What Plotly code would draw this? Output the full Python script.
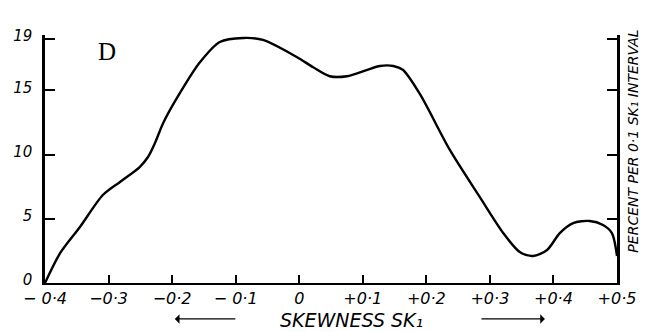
import plotly.graph_objects as go

# Data (skewness SK1 vs percent per 0.1 interval)
skewness = [-0.4, -0.376, -0.345, -0.309, -0.282, -0.251, -0.238, -0.227, -0.214,
            -0.19, -0.156, -0.125, -0.088, -0.057, -0.004, 0.022, 0.048, 0.075,
            0.107, 0.127, 0.148, 0.163, 0.19, 0.237, 0.284, 0.321, 0.347, 0.368,
            0.39, 0.41, 0.431, 0.457, 0.478, 0.492, 0.5]
percent = [0.0, 2.34, 4.36, 6.85, 7.87, 9.03, 9.81, 10.9, 12.46,
           14.6, 17.2, 18.77, 19.08, 18.93, 17.6, 16.8, 16.1, 16.1,
           16.6, 16.9, 16.9, 16.6, 14.7, 10.36, 6.7, 3.89, 2.41, 2.1,
           2.57, 3.89, 4.67, 4.83, 4.52, 3.89, 2.1]

x_tickvals = [-0.4, -0.3, -0.2, -0.1, 0.0, 0.1, 0.2, 0.3, 0.4, 0.5]
x_ticktext = ["− 0·4", "−0·3", "−0·2", "− 0·1", "0", "+0·1", "+0·2", "+0·3", "+0·4", "+0·5"]
y_tickvals = [0, 5, 10, 15, 19]
y_ticktext = ["0", "5", "10", "15", "19"]

FONT = "DejaVu Sans"

fig = go.Figure()
fig.add_trace(go.Scatter(
    x=skewness, y=percent, mode="lines",
    line=dict(color="black", width=2.4, shape="spline", smoothing=0.8),
    hoverinfo="skip", showlegend=False,
))

fig.update_layout(
    width=650, height=332,
    margin=dict(l=45, r=33, t=35, b=49),
    paper_bgcolor="white", plot_bgcolor="white",
    xaxis=dict(
        range=[-0.4, 0.5], tickvals=x_tickvals, ticktext=x_ticktext,
        showgrid=False, zeroline=False, showline=True, linecolor="black", linewidth=2,
        ticks="inside", ticklen=8, tickwidth=1.5, tickcolor="black",
        tickfont=dict(family=FONT, size=16, color="black", style="italic"),
        ticklabelstandoff=0,
    ),
    yaxis=dict(
        range=[0, 19.31], tickvals=y_tickvals, ticktext=y_ticktext,
        showgrid=False, zeroline=False, showline=True, linecolor="black", linewidth=2.5,
        mirror="ticks",
        ticks="inside", ticklen=10, tickwidth=1.5, tickcolor="black",
        tickfont=dict(family=FONT, size=15, color="black", style="italic"),
        ticklabelstandoff=7, ticklabelshift=-3,
    ),
)

fig.add_annotation(
    x=0.109, y=0.935, xref="paper", yref="paper", xanchor="center", yanchor="middle",
    text="D", showarrow=False,
    font=dict(family="Liberation Serif", size=25, color="black"),
)
fig.add_annotation(
    x=0.535, y=-0.15, xref="paper", yref="paper", xanchor="center", yanchor="middle",
    text="SKEWNESS SK₁", showarrow=False,
    font=dict(family=FONT, size=19, color="black", style="italic"),
)
# arrows beside axis title
fig.add_annotation(
    x=0.227, y=-0.145, xref="paper", yref="paper", text="", showarrow=True,
    ax=62, ay=0, arrowhead=1, arrowsize=1.2, arrowwidth=1.3, arrowcolor="black",
)
fig.add_annotation(
    x=0.874, y=-0.145, xref="paper", yref="paper", text="", showarrow=True,
    ax=-65, ay=0, arrowhead=1, arrowsize=1.2, arrowwidth=1.3, arrowcolor="black",
)
fig.add_annotation(
    x=1.0, y=0.57, xref="paper", yref="paper", xanchor="left", yanchor="middle", xshift=6,
    text="PERCENT PER 0·1 SK₁ INTERVAL", showarrow=False, textangle=-90,
    font=dict(family=FONT, size=14, color="black", style="italic"),
)

fig.write_html("out.html")
